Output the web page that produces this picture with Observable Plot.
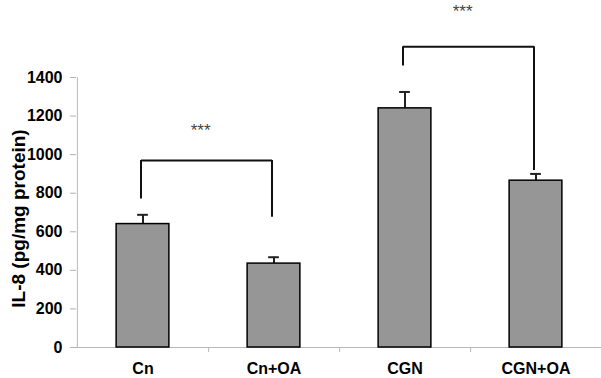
<!DOCTYPE html>
<html><head><meta charset="utf-8">
<script src="https://cdn.jsdelivr.net/npm/d3@7"></script>
<script src="https://cdn.jsdelivr.net/npm/@observablehq/plot@0.6"></script>
<style>
body{margin:0;background:#fff;}
svg{overflow:visible;}
</style>
</head><body><div id="chart"></div>
<script>
const categories = ["Cn", "Cn+OA", "CGN", "CGN+OA"];
const means = [640, 435, 1240, 865];
const errors = [48, 33, 85, 35];
const yTicks = [0, 200, 400, 600, 800, 1000, 1200, 1400];
// significance brackets
const brackets = [
  {a: "Cn", b: "Cn+OA", level: 970, leftEnd: 770, rightEnd: 675, starY: 1125, label: "***"},
  {a: "CGN", b: "CGN+OA", level: 1560, leftEnd: 1460, rightEnd: 918, starY: 1743, label: "***"}
];

const data = categories.map((c, i) => ({cat: c, v: means[i], e: errors[i]}));
const W = 601, H = 378, mL = 76, mR = 0, mT = 77, mB = 31;
const bw = (W - mL - mR) / categories.length;
const barInset = (bw - 53) / 2;
const capInset = (bw - 11) / 2;
const font = "'Liberation Sans', Arial, sans-serif";

const chart = Plot.plot({
  width: W, height: H,
  marginLeft: mL, marginRight: mR, marginTop: mT, marginBottom: mB,
  style: {fontFamily: font, background: "#fff", fontSize: "16px"},
  x: {domain: categories, padding: 0, label: null},
  y: {domain: [0, 1400], label: null},
  marks: [
    Plot.axisY({ticks: yTicks, tickFormat: d3.format("d"), tickSize: 6, tickPadding: 8, stroke: "#b0b0b0",
      fontSize: 16, fontWeight: "bold", fill: "#000", label: null}),
    Plot.axisX({tickSize: 0, tickPadding: 15, fontSize: 16, fontWeight: "bold", fill: "#000", label: null}),
    Plot.text(["IL-8 (pg/mg protein)"], {frameAnchor: "left", textAnchor: "middle", dx: -58, dy: 6, rotate: -90,
      text: d => d, fontSize: 19, fontWeight: "bold", fill: "#000"}),
    // axis lines
    Plot.ruleY([0], {stroke: "#b8b8b8"}),
    Plot.ruleX([categories[0]], {x: d => d, dx: -bw / 2, y1: 0, y2: 1400, stroke: "#b8b8b8"}),
    Plot.ruleX(categories, {x: d => d, dx: bw / 2, y1: 0, y2: 0, insetBottom: -5, stroke: "#b8b8b8"}),
    // error bars
    Plot.ruleX(data, {x: "cat", y1: "v", y2: d => d.v + d.e, stroke: "#222", strokeWidth: 2}),
    Plot.tickY(data, {x: "cat", y: d => d.v + d.e, insetLeft: capInset, insetRight: capInset, stroke: "#222", strokeWidth: 2}),
    // bars
    Plot.barY(data, {x: "cat", y: "v", fill: "#969696", stroke: "#000", strokeWidth: 1.5,
      insetLeft: barInset, insetRight: barInset}),
    // brackets
    Plot.ruleX(brackets, {x: "a", y1: "leftEnd", y2: "level", dx: -2, stroke: "#111", strokeWidth: 2}),
    Plot.ruleX(brackets, {x: "b", y1: "rightEnd", y2: "level", dx: -2, stroke: "#111", strokeWidth: 2}),
    Plot.link(brackets, {x1: "a", x2: "b", y1: "level", y2: "level", dx: -2, stroke: "#111", strokeWidth: 2}),
    Plot.text(brackets, {x: "a", y: "starY", text: "label", dx: bw / 2 - 8, fontSize: 17, fill: "#444",
      letterSpacing: 2})
  ]
});
document.getElementById("chart").appendChild(chart);
</script></body></html>
